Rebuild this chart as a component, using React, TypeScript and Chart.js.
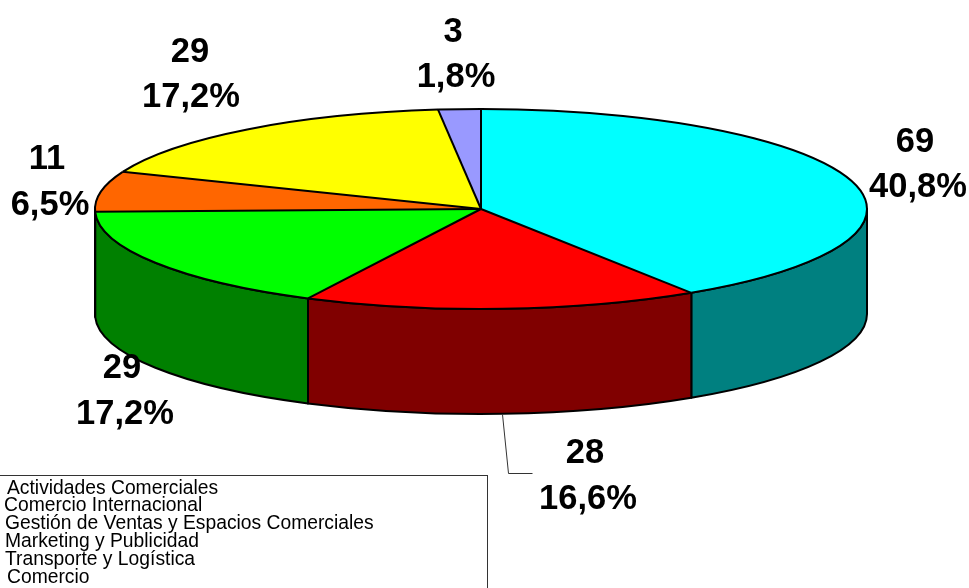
import React, { useEffect, useRef } from "react";
import { Chart, registerables } from "chart.js";

Chart.register(...registerables);

const categories = [
  "Actividades Comerciales",
  "Comercio Internacional",
  "Gestión de Ventas y Espacios Comerciales",
  "Marketing y Publicidad",
  "Transporte y Logística",
  "Comercio",
];
const values = [69, 28, 29, 11, 29, 3];
const percents = ["40,8%", "16,6%", "17,2%", "6,5%", "17,2%", "1,8%"];
const topColors = ["#00FFFF", "#FF0000", "#00FF00", "#FF6600", "#FFFF00", "#9999FF"];
const wallColors = ["#008080", "#800000", "#008000", "#803300", "#808000", "#4D4D80"];

// layout (pixels), separate from the data
const W = 969;
const H = 588;
const CX = 481;
const CY = 209;
const RX = 386;
const RY = 100;
const DEPTH = 105;
const LABEL_FONT = 'bold 34.5px "Liberation Sans", Arial, sans-serif';
const LEGEND_FONT = '19.3px "Liberation Sans", Arial, sans-serif';
const labelAnchors = [
  [915, 142, 918, 187],
  [585, 453, 588, 499],
  [122, 368, 125, 414],
  [47, 159, 50, 205],
  [190, 52, 191, 97],
  [453, 32, 456, 77],
];
const legendBox = { x: -1, y: 475, w: 488, h: 120 };
const legendLines = [
  [7, 489],
  [4, 506],
  [5, 524],
  [5, 542],
  [5, 560],
  [7, 578],
];
const leader = [
  [502, 414],
  [508, 473],
  [532, 473],
];

const pie3d = {
  id: "pie3d",
  beforeDatasetsDraw(chart: any) {
    const ctx = chart.ctx;
    const arcs = chart.getDatasetMeta(0).data;
    ctx.save();
    ctx.lineWidth = 2;
    ctx.strokeStyle = "#000";
    ctx.lineJoin = "round";
    arcs.forEach((arc: any, i: number) => {
      const { startAngle, endAngle } = arc.getProps(["startAngle", "endAngle"]);
      const a0 = Math.max(startAngle, 0);
      const a1 = Math.min(endAngle, Math.PI);
      if (a1 <= a0) return;
      ctx.beginPath();
      ctx.ellipse(CX, CY, RX, RY, 0, a0, a1);
      ctx.lineTo(CX + RX * Math.cos(a1), CY + DEPTH + RY * Math.sin(a1));
      ctx.ellipse(CX, CY + DEPTH, RX, RY, 0, a1, a0, true);
      ctx.closePath();
      ctx.fillStyle = wallColors[i];
      ctx.fill();
      ctx.stroke();
    });
    ctx.restore();
    // the pie's own arcs are squashed into the ellipse of the top face
    const first = arcs[0].getProps(["x", "y", "outerRadius"]);
    ctx.save();
    ctx.translate(CX, CY);
    ctx.scale(RX / first.outerRadius, RY / first.outerRadius);
    ctx.translate(-first.x, -first.y);
  },
  afterDatasetsDraw(chart: any) {
    const ctx = chart.ctx;
    ctx.restore();
    const arcs = chart.getDatasetMeta(0).data;
    ctx.save();
    ctx.strokeStyle = "#000";
    ctx.lineJoin = "round";
    arcs.forEach((arc: any) => {
      const { startAngle, endAngle } = arc.getProps(["startAngle", "endAngle"]);
      ctx.lineWidth = 2;
      ctx.beginPath();
      ctx.ellipse(CX, CY, RX, RY, 0, startAngle, endAngle);
      ctx.stroke();
      ctx.beginPath();
      ctx.moveTo(CX + RX * Math.cos(startAngle), CY + RY * Math.sin(startAngle));
      ctx.lineTo(CX, CY);
      ctx.stroke();
    });
    ctx.restore();

    // leader line
    ctx.save();
    ctx.strokeStyle = "#333";
    ctx.lineWidth = 1;
    ctx.beginPath();
    leader.forEach(([x, y], i) => (i ? ctx.lineTo(x + 0.5, y + 0.5) : ctx.moveTo(x + 0.5, y + 0.5)));
    ctx.stroke();
    ctx.restore();

    // value and percent labels
    ctx.save();
    ctx.fillStyle = "#000";
    ctx.font = LABEL_FONT;
    ctx.textAlign = "center";
    ctx.textBaseline = "middle";
    values.forEach((v, i) => {
      const [x1, y1, x2, y2] = labelAnchors[i];
      ctx.fillText(String(v), x1, y1);
      ctx.fillText(percents[i], x2, y2);
    });
    ctx.restore();

    // legend box
    ctx.save();
    ctx.strokeStyle = "#333";
    ctx.lineWidth = 1;
    ctx.strokeRect(legendBox.x + 0.5, legendBox.y + 0.5, legendBox.w, legendBox.h);
    ctx.fillStyle = "#000";
    ctx.font = LEGEND_FONT;
    ctx.textAlign = "left";
    ctx.textBaseline = "middle";
    categories.forEach((name, i) => {
      ctx.fillText(name, legendLines[i][0], legendLines[i][1]);
    });
    ctx.restore();
  },
};

export default function App() {
  const ref = useRef<HTMLCanvasElement | null>(null);
  useEffect(() => {
    document.body.style.margin = "0";
    document.body.style.background = "#fff";
    const chart = new Chart(ref.current as HTMLCanvasElement, {
      type: "pie",
      data: {
        labels: categories,
        datasets: [{ data: values, backgroundColor: topColors, borderWidth: 0, hoverOffset: 0 }],
      },
      options: {
        animation: false,
        responsive: false,
        events: [],
        layout: { padding: 0 },
        plugins: { legend: { display: false }, tooltip: { enabled: false }, title: { display: false } },
      },
      plugins: [pie3d],
    } as any);
    return () => chart.destroy();
  }, []);
  return (
    <div style={{ position: "absolute", left: 0, top: 0, width: W, height: H, overflow: "hidden" }}>
      <canvas ref={ref} width={W} height={H} style={{ display: "block", width: W, height: H }} />
    </div>
  );
}
